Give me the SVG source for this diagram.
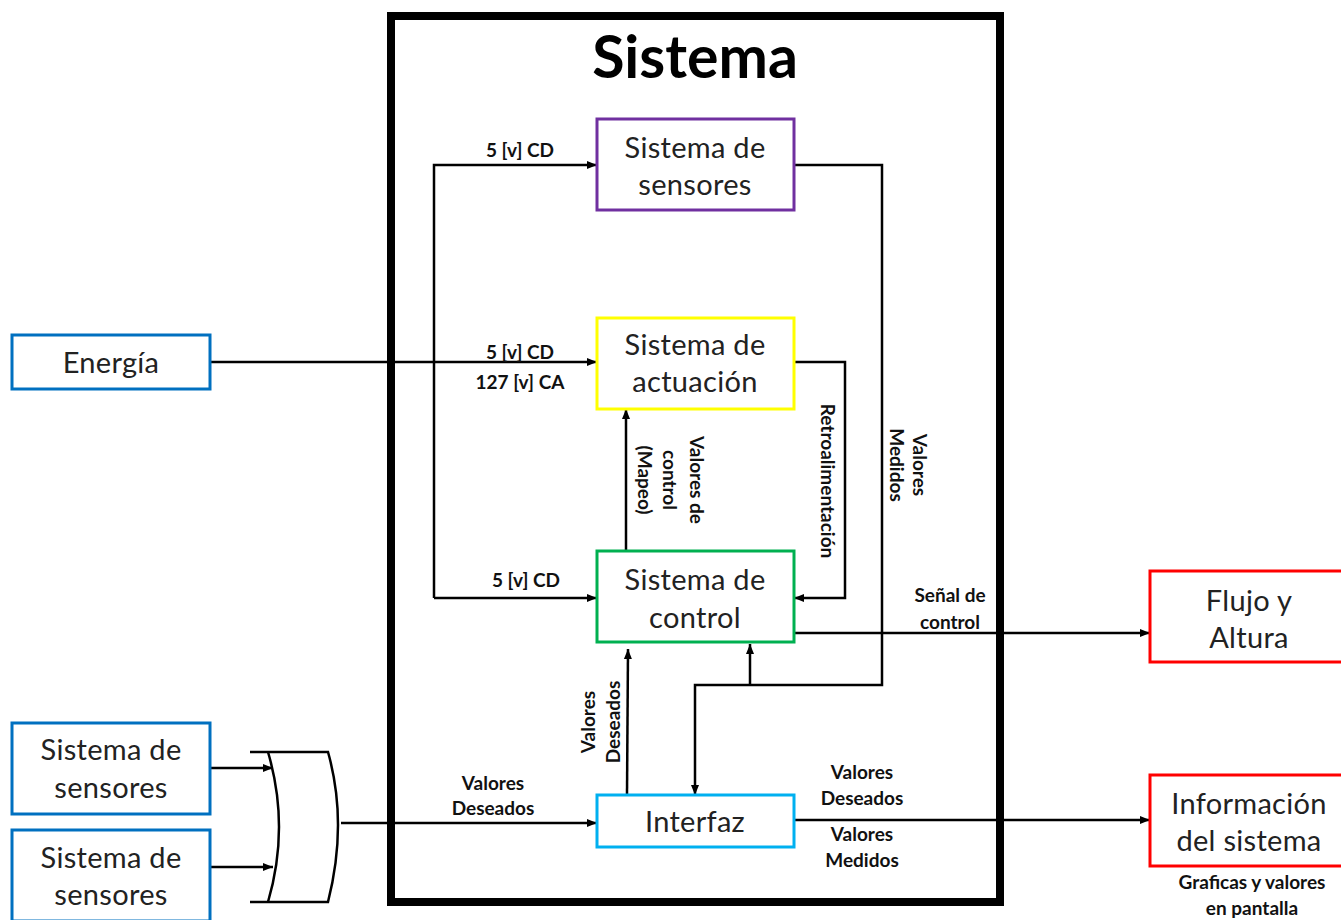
<svg xmlns="http://www.w3.org/2000/svg" width="1341" height="920" viewBox="0 0 1341 920">
<defs>
<marker id="ah" viewBox="0 0 10 10" refX="10" refY="5" markerWidth="10" markerHeight="10" markerUnits="userSpaceOnUse" orient="auto">
<path d="M0,1 L10,5 L0,9 z" fill="#000"/>
</marker>
<style>
.box{fill:#fff;stroke-width:3}
.nt{font-family:Lato,"Liberation Sans",sans-serif;font-size:29px;letter-spacing:0.3px;fill:#222;text-anchor:middle;dominant-baseline:central}
.lb{font-family:Lato,"Liberation Sans",sans-serif;font-size:19px;font-weight:bold;fill:#111;text-anchor:middle;dominant-baseline:central}
.ln{fill:none;stroke:#000;stroke-width:2.5}
.ar{marker-end:url(#ah)}
</style>
</defs>
<rect width="1341" height="920" fill="#fff"/>
<g id="sistema">
<rect x="391" y="16" width="609" height="886" fill="none" stroke="#000" stroke-width="8"/>
<text x="695" y="55" font-family="Lato,'Liberation Sans',sans-serif" font-size="59" font-weight="bold" text-anchor="middle" dominant-baseline="central">Sistema</text>
</g>
<g id="connectors">
<polyline class="ln ar" points="434,598 434,165 597,165"/>
<line class="ln ar" x1="434" y1="598" x2="597" y2="598"/>
<line class="ln ar" x1="210" y1="362" x2="597" y2="362"/>
<polyline class="ln ar" points="794,165 882,165 882,685 695,685 695,795"/>
<line class="ln ar" x1="750" y1="685" x2="750" y2="644"/>
<polyline class="ln ar" points="794,362 845,362 845,598 794,598"/>
<line class="ln ar" x1="626" y1="551" x2="626" y2="409"/>
<line class="ln ar" x1="794" y1="633" x2="1150" y2="633"/>
<line class="ln ar" x1="627" y1="795" x2="628" y2="649"/>
<line class="ln ar" x1="794" y1="820" x2="1150" y2="820"/>
<line class="ln ar" x1="341" y1="823" x2="597" y2="823"/>
<line class="ln ar" x1="210" y1="768" x2="273" y2="768"/>
<line class="ln ar" x1="210" y1="867" x2="273" y2="867"/>
</g>
<g id="or-gate" fill="none" stroke="#000" stroke-width="2.5">
<path d="M250,752 L328,752 Q348,823 328,902 L250,902"/>
<path d="M268,752 Q290,827 268,902"/>
</g>
<g id="n-sensores">
<rect class="box" x="597" y="119" width="197" height="91" stroke="#7030A0"/>
<text class="nt" x="695" y="146">Sistema de</text>
<text class="nt" x="695" y="183">sensores</text>
</g>
<g id="n-actuacion">
<rect class="box" x="597" y="318" width="197" height="91" stroke="#FFFF00"/>
<text class="nt" x="695" y="343">Sistema de</text>
<text class="nt" x="695" y="380">actuación</text>
</g>
<g id="n-control">
<rect class="box" x="597" y="551" width="197" height="91" stroke="#00B050"/>
<text class="nt" x="695" y="578">Sistema de</text>
<text class="nt" x="695" y="616">control</text>
</g>
<g id="n-interfaz">
<rect class="box" x="597" y="795" width="197" height="52" stroke="#00B0F0"/>
<text class="nt" x="695" y="820">Interfaz</text>
</g>
<g id="n-energia">
<rect class="box" x="12" y="335" width="198" height="54" stroke="#0070C0"/>
<text class="nt" x="111" y="361">Energía</text>
</g>
<g id="n-sens1">
<rect class="box" x="12" y="723" width="198" height="91" stroke="#0070C0"/>
<text class="nt" x="111" y="748">Sistema de</text>
<text class="nt" x="111" y="786">sensores</text>
</g>
<g id="n-sens2">
<rect class="box" x="12" y="830" width="198" height="91" stroke="#0070C0"/>
<text class="nt" x="111" y="856">Sistema de</text>
<text class="nt" x="111" y="893">sensores</text>
</g>
<g id="n-flujo">
<rect class="box" x="1150" y="571" width="195" height="91" stroke="#FF0000"/>
<text class="nt" x="1249" y="599">Flujo y</text>
<text class="nt" x="1249" y="636">Altura</text>
</g>
<g id="n-info">
<rect class="box" x="1150" y="775" width="195" height="91" stroke="#FF0000"/>
<text class="nt" x="1249" y="802">Información</text>
<text class="nt" x="1249" y="839">del sistema</text>
</g>
<g id="labels">
<text class="lb" x="520" y="149">5 [v] CD</text>
<text class="lb" x="520" y="351">5 [v] CD</text>
<text class="lb" x="520" y="381">127 [v] CA</text>
<text class="lb" x="526" y="579">5 [v] CD</text>
<text class="lb" transform="translate(697,480) rotate(90)">Valores de</text>
<text class="lb" transform="translate(670,480) rotate(90)">control</text>
<text class="lb" transform="translate(645,480) rotate(90)">(Mapeo)</text>
<text class="lb" transform="translate(828,481) rotate(90)">Retroalimentación</text>
<text class="lb" transform="translate(920,465) rotate(90)">Valores</text>
<text class="lb" transform="translate(897,465) rotate(90)">Medidos</text>
<text class="lb" transform="translate(587,722) rotate(-90)">Valores</text>
<text class="lb" transform="translate(612,722) rotate(-90)">Deseados</text>
<text class="lb" x="493" y="782">Valores</text>
<text class="lb" x="493" y="807">Deseados</text>
<text class="lb" x="950" y="594">Señal de</text>
<text class="lb" x="950" y="621">control</text>
<text class="lb" x="862" y="771">Valores</text>
<text class="lb" x="862" y="797">Deseados</text>
<text class="lb" x="862" y="833">Valores</text>
<text class="lb" x="862" y="859">Medidos</text>
<text class="lb" x="1252" y="881">Graficas y valores</text>
<text class="lb" x="1252" y="907">en pantalla</text>
</g>
</svg>
